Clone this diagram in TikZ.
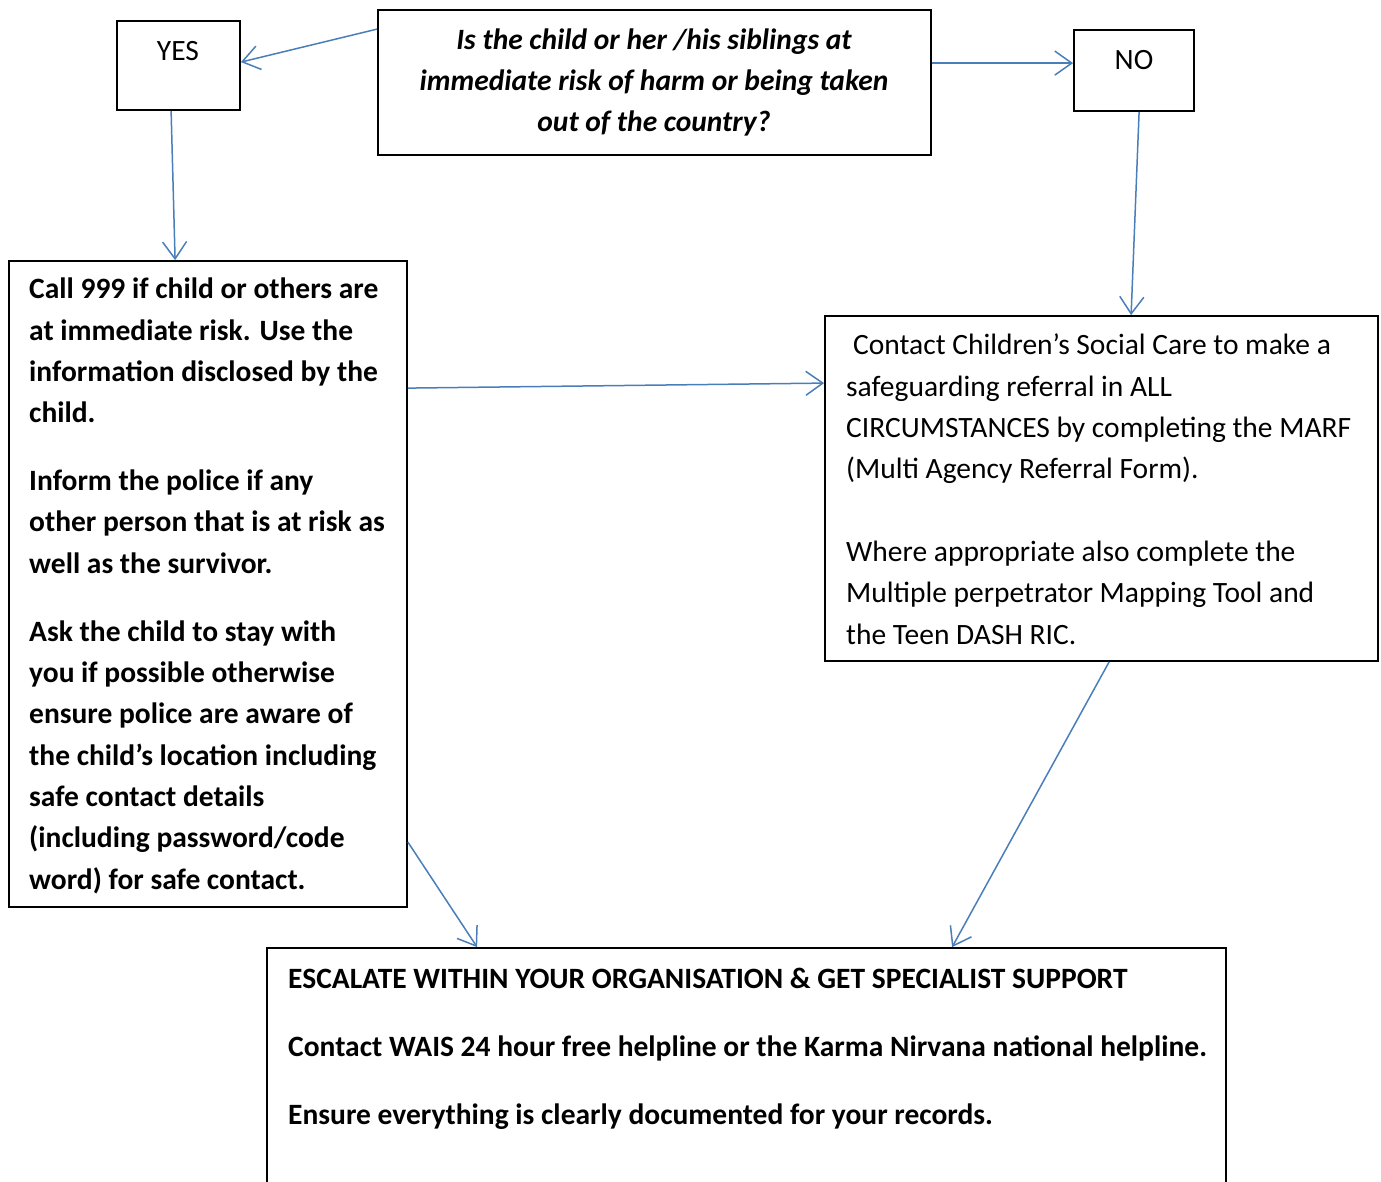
\documentclass[tikz,border=0pt]{standalone}
\usepackage{fontspec}
\setmainfont{Carlito}
\usetikzlibrary{arrows.meta,calc}
\definecolor{arrowblue}{HTML}{4A7EBB}
\tikzset{
  box/.style={draw=black,line width=1.8pt,rectangle,inner sep=0pt},
  conn/.style={draw=arrowblue,line width=1.5pt,-{Straight Barb[length=17pt,width=24pt,line width=1.5pt]}},
  txt/.style={inner sep=0pt,font=\fontsize{29.5}{41.3}\selectfont},
}
\begin{document}
\begin{tikzpicture}[x=1pt,y=-1pt]
\useasboundingbox (0,0) rectangle (1381,1182);
\clip (0,0) rectangle (1381,1182);
% boxes
\node[box,minimum width=123pt,minimum height=89pt] (yes) at (178.5,65.5) {};
\node[box,minimum width=553pt,minimum height=145pt] (q) at (654.5,82.5) {};
\node[box,minimum width=120pt,minimum height=81pt] (no) at (1134,70.5) {};
\node[box,minimum width=398pt,minimum height=646pt] (left) at (208,584) {};
\node[box,minimum width=553pt,minimum height=345pt] (right) at (1101.5,488.5) {};
\node[box,minimum width=959pt,minimum height=300pt] (bottom) at (746.5,1098) {};
% texts
\node[txt,anchor=base] (yest) at (178,61) {YES};
\node[txt,anchor=base] (not) at (1134,70) {NO};
\node[txt,anchor=base,align=center,font=\fontsize{29.5}{41}\selectfont\bfseries\itshape] (qt) at (654,132)
 {Is the child or her /his siblings at\\ immediate risk of harm or being taken\\ out of the country?};
\node[txt,anchor=base west,align=left,font=\fontsize{29.5}{41.3}\selectfont\bfseries] (leftt) at (29,889)
 {Call 999 if child or others are\\ at immediate risk. Use the\\ information disclosed by the\\ child.\\[26.7pt]
  Inform the police if any\\ other person that is at risk as\\ well as the survivor.\\[26.7pt]
  Ask the child to stay with\\ you if possible otherwise\\ ensure police are aware of\\ the child’s location including\\ safe contact details\\ (including password/code\\ word) for safe contact.};
\node[txt,anchor=base west,align=left] (rightt) at (846,644)
 {\hspace*{7pt}Contact Children’s Social Care to make a\\ safeguarding referral in ALL\\ CIRCUMSTANCES by completing the MARF\\ (Multi Agency Referral Form).\\[41.3pt]
  Where appropriate also complete the\\ Multiple perpetrator Mapping Tool and\\ the Teen DASH RIC.};
\node[txt,anchor=base west,align=left,font=\fontsize{29.5}{68}\selectfont\bfseries] (bottomt) at (288,1124)
 {ESCALATE WITHIN YOUR ORGANISATION \& GET SPECIALIST SUPPORT\\
  Contact WAIS 24 hour free helpline or the Karma Nirvana national helpline.\\
  Ensure everything is clearly documented for your records.};
% connectors
\draw[conn] ($(q.north west)+(0,20)$) -- ($(yes.north east)+(0,42)$);
\draw[conn] ($(q.north east)+(0,54)$) -- ($(no.north west)+(0,34)$);
\draw[conn] ($(yes.south west)+(55,0)$) -- ($(left.north west)+(167,0)$);
\draw[conn] ($(no.south west)+(66,0)$) -- ($(right.north west)+(307,0)$);
\draw[conn] ($(left.north east)+(0,128)$) -- ($(right.north west)+(0,68)$);
\draw[conn] ($(left.north east)+(0,582)$) -- ($(bottom.north west)+(211,0)$);
\draw[conn] ($(right.south west)+(285,0)$) -- ($(bottom.north west)+(686,0)$);
\end{tikzpicture}
\end{document}
